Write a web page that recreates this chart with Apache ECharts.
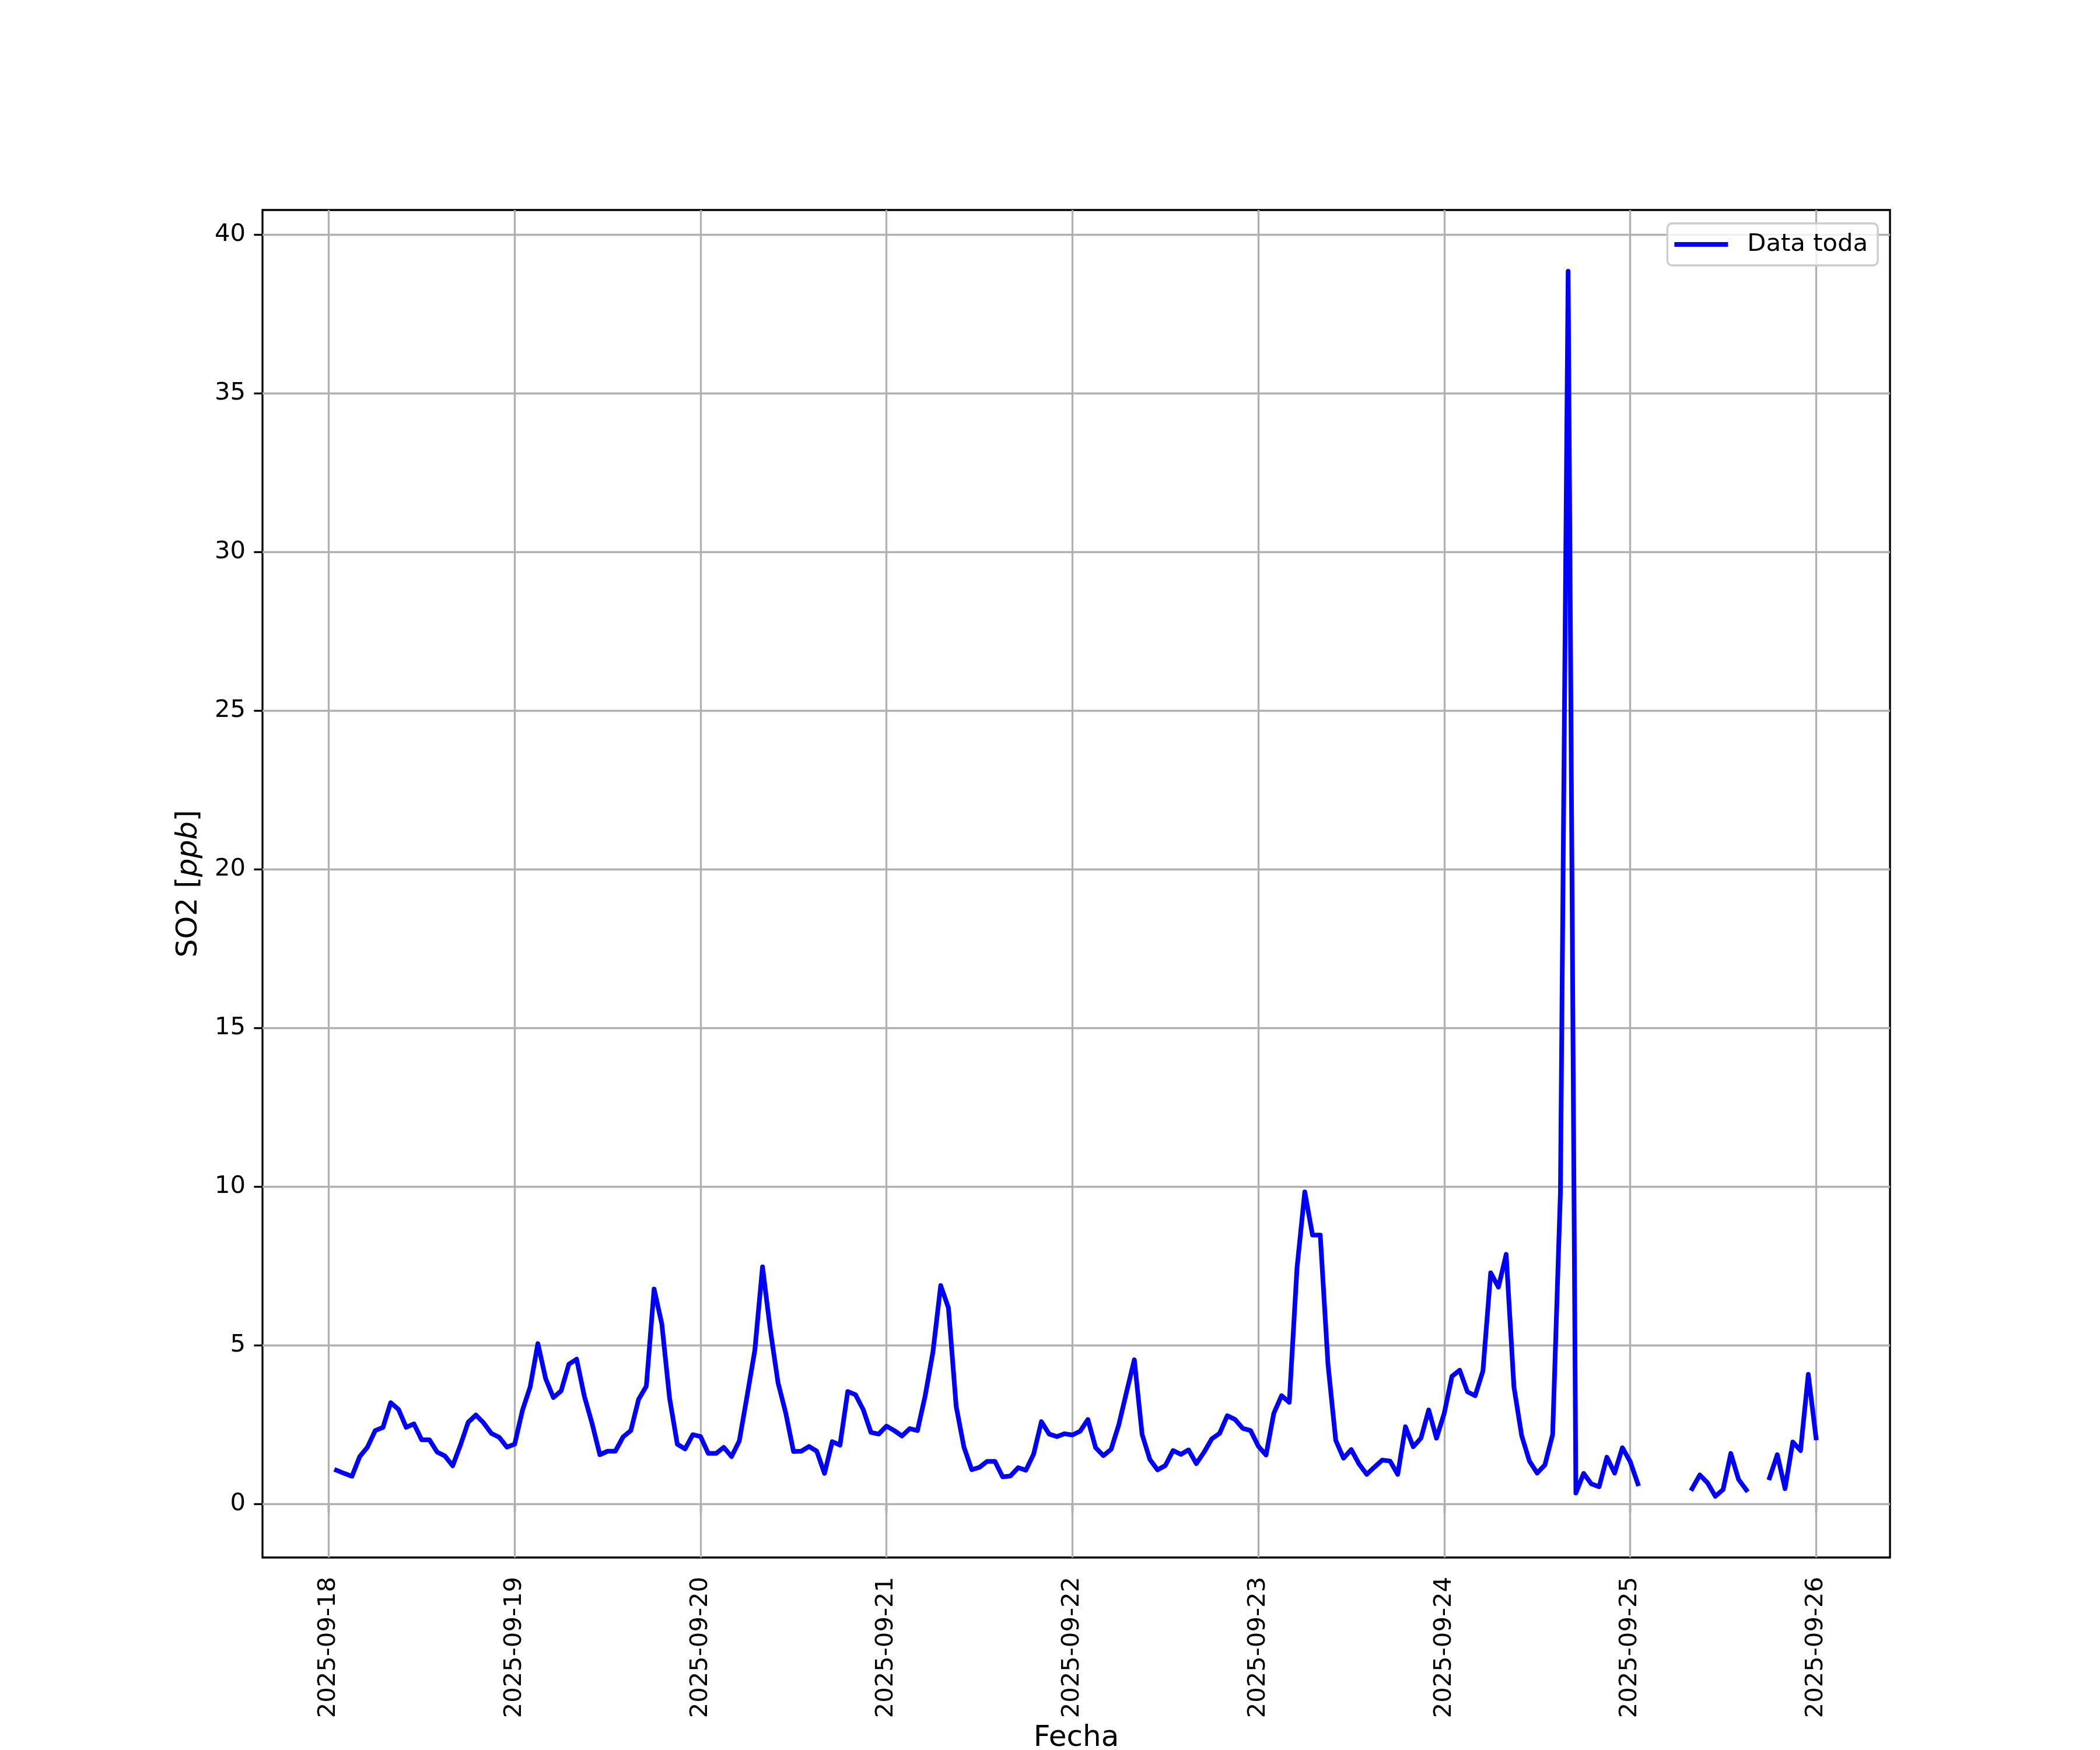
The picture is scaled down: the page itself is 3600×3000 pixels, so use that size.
<!DOCTYPE html>
<html><head><meta charset="utf-8">
<script src="https://cdn.jsdelivr.net/npm/echarts@6/dist/echarts.min.js"></script>
<style>html,body{margin:0;padding:0;background:#fff}#c{width:3600px;height:3000px}</style>
</head><body><div id="c"></div>
<script>
const seriesName = 'Data toda';
const xAxisTitle = 'Fecha';
const yAxisTitle = 'SO2 [{i|ppb}]';
const firstHour = '2025-09-18T01:00:00Z'; // hourly readings, 01:00 .. 24:00 of each day
const day18 = [1.07, 0.97, 0.88, 1.50, 1.80, 2.32, 2.42, 3.20, 2.99, 2.42, 2.53, 2.03, 2.03, 1.64, 1.52, 1.21, 1.86, 2.58, 2.81, 2.56, 2.23, 2.11, 1.80, 1.89];
const day19 = [2.95, 3.69, 5.06, 3.96, 3.36, 3.57, 4.41, 4.57, 3.40, 2.54, 1.56, 1.67, 1.67, 2.12, 2.32, 3.30, 3.72, 6.78, 5.68, 3.34, 1.89, 1.74, 2.19, 2.13];
const day20 = [1.60, 1.60, 1.79, 1.50, 1.99, 3.40, 4.84, 7.48, 5.50, 3.83, 2.87, 1.66, 1.67, 1.82, 1.67, 0.97, 1.97, 1.86, 3.55, 3.45, 2.98, 2.26, 2.21, 2.46];
const day21 = [2.32, 2.15, 2.38, 2.32, 3.42, 4.80, 6.89, 6.19, 3.08, 1.80, 1.09, 1.16, 1.35, 1.35, 0.86, 0.89, 1.15, 1.07, 1.58, 2.60, 2.21, 2.13, 2.22, 2.18];
const day22 = [2.30, 2.67, 1.78, 1.53, 1.73, 2.51, 3.54, 4.55, 2.20, 1.41, 1.08, 1.22, 1.69, 1.57, 1.71, 1.28, 1.64, 2.06, 2.23, 2.79, 2.67, 2.39, 2.32, 1.83];
const day23 = [1.55, 2.86, 3.42, 3.21, 7.45, 9.84, 8.48, 8.48, 4.40, 2.01, 1.45, 1.72, 1.27, 0.94, 1.17, 1.39, 1.36, 0.94, 2.44, 1.81, 2.08, 2.97, 2.08, 2.86];
const day24 = [4.03, 4.22, 3.54, 3.42, 4.20, 7.29, 6.84, 7.87, 3.70, 2.16, 1.36, 0.98, 1.24, 2.20, 9.80, 38.85, 0.35, 0.97, 0.64, 0.55, 1.48, 0.98, 1.78, 1.35];
const day25 = [0.64, null, null, null, null, null, null, 0.49, 0.92, 0.67, 0.25, 0.46, 1.60, 0.78, 0.45, null, null, 0.83, 1.56, 0.49, 1.96, 1.69, 4.09, 2.09];
const yTicks = [0, 5, 10, 15, 20, 25, 30, 35, 40];
const xTickDates = ['2025-09-18', '2025-09-19', '2025-09-20', '2025-09-21', '2025-09-22', '2025-09-23', '2025-09-24', '2025-09-25', '2025-09-26'];

const FONT = 'DejaVu Sans';
const HOUR = 3600000;
const values = [].concat(day18, day19, day20, day21, day22, day23, day24, day25);
const t0 = Date.parse(firstHour);
const data = values.map((v, i) => [t0 + i * HOUR, v === null ? '-' : v]);
const xTicks = xTickDates.map(d => Date.parse(d + 'T00:00:00Z'));
const tFirst = t0, tLast = t0 + (values.length - 1) * HOUR;
const xm = 0.05 * (tLast - tFirst);
const nums = values.filter(v => v !== null);
const vMin = Math.min(...nums), vMax = Math.max(...nums);
const ym = 0.05 * (vMax - vMin);
const pad2 = n => (n < 10 ? '0' : '') + n;
const fmtDate = v => { const d = new Date(v); return d.getUTCFullYear() + '-' + pad2(d.getUTCMonth() + 1) + '-' + pad2(d.getUTCDate()); };

const chart = echarts.init(document.getElementById('c'), null, {renderer: 'canvas'});
chart.setOption({
  animation: false,
  backgroundColor: '#ffffff',
  grid: {left: 450, right: 360, top: 360, bottom: 330, containLabel: false, outerBoundsMode: 'none', show: true, borderColor: '#000', borderWidth: 3.3, backgroundColor: 'transparent'},
  legend: {
    data: [{name: seriesName, icon: 'rect'}], right: 381, top: 383, orient: 'horizontal',
    backgroundColor: 'rgba(255,255,255,0.8)', borderColor: '#cccccc', borderWidth: 3.3, borderRadius: 8,
    padding: [15, 17, 15, 12], itemWidth: 92, itemHeight: 8, itemGap: 0,
    itemStyle: {color: '#0000ff'},
    textStyle: {fontSize: 41.7, fontFamily: FONT, color: '#000', padding: [0, 0, 0, 28]}
  },
  xAxis: {
    type: 'value', min: tFirst - xm, max: tLast + xm, scale: true,
    name: xAxisTitle, nameLocation: 'middle', nameGap: 285,
    nameTextStyle: {fontSize: 50, fontFamily: FONT, color: '#000'},
    axisLine: {show: false},
    axisTick: {show: true, customValues: xTicks, length: 14.6, lineStyle: {color: '#000', width: 3.3}},
    axisLabel: {show: true, customValues: xTicks, rotate: 90, margin: 33, fontSize: 41.7, fontFamily: FONT, color: '#000', hideOverlap: false, formatter: v => fmtDate(v)},
    splitLine: {show: false}
  },
  yAxis: {
    type: 'value', min: vMin - ym, max: vMax + ym,
    name: yAxisTitle, nameLocation: 'middle', nameGap: 101, nameRotate: 90,
    nameTextStyle: {fontSize: 50, fontFamily: FONT, color: '#000', rich: {i: {fontStyle: 'italic', fontSize: 50, fontFamily: FONT, color: '#000'}}},
    axisLine: {show: false},
    axisTick: {show: true, customValues: yTicks, length: 14.6, lineStyle: {color: '#000', width: 3.3}},
    axisLabel: {show: true, customValues: yTicks, margin: 29, fontSize: 41.7, fontFamily: FONT, color: '#000', formatter: v => String(v)},
    splitLine: {show: false}
  },
  series: [
    {
      type: 'line', data: [], silent: true, z: 1,
      markLine: {
        silent: true, z: 1, symbol: ['none', 'none'], animation: false,
        label: {show: false}, emphasis: {disabled: true},
        lineStyle: {color: '#b0b0b0', width: 3.3, type: 'solid'},
        data: yTicks.map(v => ({yAxis: v})).concat(xTicks.map(t => ({xAxis: t})))
      }
    },
    {
      name: seriesName, type: 'line', data: data, z: 3,
      showSymbol: false, symbol: 'none', connectNulls: false,
      lineStyle: {color: '#0000ff', width: 8, join: 'round', cap: 'square'},
      itemStyle: {color: '#0000ff'}
    }
  ]
});
</script></body></html>
